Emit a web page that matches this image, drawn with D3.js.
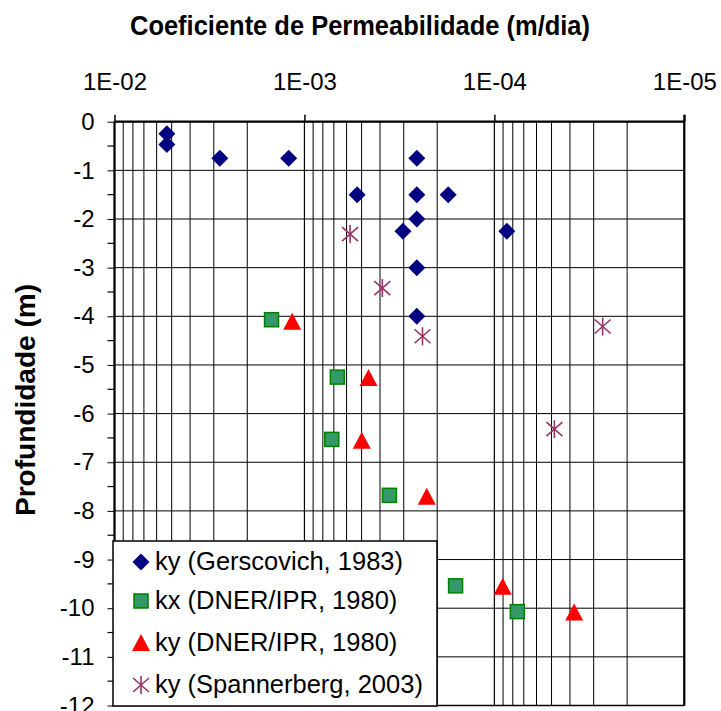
<!DOCTYPE html>
<html><head><meta charset="utf-8">
<script src="https://cdn.jsdelivr.net/npm/d3@7"></script>
<style>body{margin:0;background:#fff}svg{display:block;font-family:Arial,"Liberation Sans",sans-serif}</style>
</head><body>
<svg id="c" width="721" height="711"></svg>
<script>
const xTicks = [1e-2, 1e-3, 1e-4, 1e-5];
const xTickLabels = ["1E-02", "1E-03", "1E-04", "1E-05"];
const yTicks = [0,-1,-2,-3,-4,-5,-6,-7,-8,-9,-10,-11,-12];

const gersK = [5.3e-3, 5.3e-3, 2.79e-3, 1.21e-3, 2.56e-4, 5.28e-4, 2.56e-4, 1.75e-4, 2.56e-4, 3.03e-4, 8.6e-5, 2.56e-4, 2.56e-4];
const gersD = [-0.25, -0.47, -0.75, -0.75, -0.75, -1.5, -1.5, -1.5, -2.0, -2.25, -2.25, -3.0, -4.0];
const kxDnerK = [1.49e-3, 6.71e-4, 7.18e-4, 3.57e-4, 1.6e-4, 7.57e-5];
const kxDnerD = [-4.07, -5.25, -6.53, -7.68, -9.54, -10.07];
const kyDnerK = [1.16e-3, 4.6e-4, 4.99e-4, 2.27e-4, 9.04e-5, 3.8e-5];
const kyDnerD = [-4.11, -5.27, -6.56, -7.71, -9.56, -10.09];
const spanK = [5.75e-4, 3.89e-4, 2.39e-4, 2.69e-5, 4.83e-5];
const spanD = [-2.31, -3.42, -4.41, -4.21, -6.32];
const seriesNames = ["ky (Gerscovich, 1983)", "kx (DNER/IPR, 1980)", "ky (DNER/IPR, 1980)", "ky (Spannerberg, 2003)"];

const svg = d3.select("#c");
const L = 114.5, R = 684.3, T = 121.7, B = 705.5;
const x = d3.scaleLog().domain([1e-2, 1e-5]).range([L, R]);
const y = d3.scaleLinear().domain([0, -12]).range([T, B]);

// minor vertical gridlines
const minor = [];
[1e-3, 1e-4, 1e-5].forEach(dec => { for (let m = 2; m <= 9; m++) minor.push(dec * m); });
svg.append("g").selectAll("line").data(minor).join("line")
  .attr("x1", d => x(d)).attr("x2", d => x(d)).attr("y1", T).attr("y2", B)
  .attr("stroke", "#000").attr("stroke-width", 1);
svg.append("g").selectAll("line").data(xTicks).join("line")
  .attr("x1", d => x(d)).attr("x2", d => x(d)).attr("y1", T).attr("y2", B)
  .attr("stroke", "#000").attr("stroke-width", 1.2);
// horizontal gridlines
svg.append("g").selectAll("line").data(yTicks).join("line")
  .attr("x1", L).attr("x2", R).attr("y1", d => y(d)).attr("y2", d => y(d))
  .attr("stroke", "#000").attr("stroke-width", 1);

// top axis
const xAxis = d3.axisTop(x).tickValues(xTicks).tickFormat((d, i) => xTickLabels[i]).tickSize(7).tickPadding(25);
const gx = svg.append("g").attr("transform", `translate(0,${T})`).call(xAxis);
gx.select(".domain").attr("stroke-width", 2.2).attr("d", `M${L},0H${R}`);
gx.selectAll(".tick line").attr("stroke-width", 1.5);
gx.selectAll("text").attr("font-size", 24).attr("fill", "#000").attr("font-family", "Arial, Liberation Sans, sans-serif");

// left axis
const yAxis = d3.axisLeft(y).tickValues(yTicks).tickFormat(d3.format("d")).tickSize(7).tickPadding(13);
const gy = svg.append("g").attr("transform", `translate(${L},0)`).call(yAxis);
gy.select(".domain").attr("stroke-width", 2.2).attr("d", `M0,${T}V${B}`);
gy.selectAll("text").attr("font-size", 24).attr("fill", "#000").attr("font-family", "Arial, Liberation Sans, sans-serif")
  .text(d => d === 0 ? "0" : "-" + Math.abs(d));
const minorY = d3.range(0, 12).map(i => -i - 0.5);
svg.append("g").selectAll("line").data(minorY).join("line")
  .attr("x1", L - 7).attr("x2", L).attr("y1", d => y(d)).attr("y2", d => y(d)).attr("stroke", "#000").attr("stroke-width", 1.2);

// right and bottom border
svg.append("line").attr("x1", R).attr("x2", R).attr("y1", T - 7).attr("y2", B).attr("stroke", "#000").attr("stroke-width", 2.2);
svg.append("line").attr("x1", L).attr("x2", R).attr("y1", B).attr("y2", B).attr("stroke", "#000").attr("stroke-width", 1.5);

// marker drawers
const sym = {
  diamond: (g, cx, cy) => g.append("path").attr("d", `M${cx},${cy-8.5}L${cx+8.5},${cy}L${cx},${cy+8.5}L${cx-8.5},${cy}Z`).attr("fill", "#000080"),
  square: (g, cx, cy) => g.append("rect").attr("x", cx - 7).attr("y", cy - 7).attr("width", 14).attr("height", 14).attr("fill", "#339966").attr("stroke", "#008000").attr("stroke-width", 1.5),
  triangle: (g, cx, cy) => g.append("path").attr("d", `M${cx},${cy-9}L${cx+9},${cy+8}L${cx-9},${cy+8}Z`).attr("fill", "#FF0000"),
  star: (g, cx, cy) => {
    const s = g.append("g").attr("stroke", "#993366").attr("stroke-width", 1.6);
    s.append("line").attr("x1", cx).attr("x2", cx).attr("y1", cy - 9).attr("y2", cy + 9);
    s.append("line").attr("x1", cx - 8).attr("x2", cx + 8).attr("y1", cy - 7).attr("y2", cy + 7);
    s.append("line").attr("x1", cx - 8).attr("x2", cx + 8).attr("y1", cy + 7).attr("y2", cy - 7);
  }
};
const series = [
  {k: gersK, d: gersD, m: "diamond"},
  {k: kxDnerK, d: kxDnerD, m: "square"},
  {k: kyDnerK, d: kyDnerD, m: "triangle"},
  {k: spanK, d: spanD, m: "star"}
];
const pts = svg.append("g");
series.forEach(s => s.k.forEach((k, i) => sym[s.m](pts, x(k), y(s.d[i]))));

// legend
const lg = svg.append("g");
lg.append("rect").attr("x", 113).attr("y", 541).attr("width", 324).attr("height", 165)
  .attr("fill", "#fff").attr("stroke", "#000").attr("stroke-width", 1.5);
const rowY = [562, 601, 643, 685];
series.forEach((s, i) => {
  sym[s.m](lg, 141, rowY[i]);
  lg.append("text").attr("x", 155).attr("y", rowY[i] + 8).attr("font-size", 25.5).attr("fill", "#000").text(seriesNames[i]);
});

// titles
svg.append("text").attr("x", 360).attr("y", 35).attr("text-anchor", "middle").attr("font-size", 27.5).attr("font-weight", "bold")
  .attr("textLength", 460).attr("lengthAdjust", "spacingAndGlyphs").text("Coeficiente de Permeabilidade (m/dia)");
svg.append("text").attr("transform", "translate(35,400) rotate(-90)").attr("text-anchor", "middle").attr("font-size", 27.5).attr("font-weight", "bold")
  .attr("textLength", 232).attr("lengthAdjust", "spacingAndGlyphs").text("Profundidade (m)");
</script>
</body></html>
